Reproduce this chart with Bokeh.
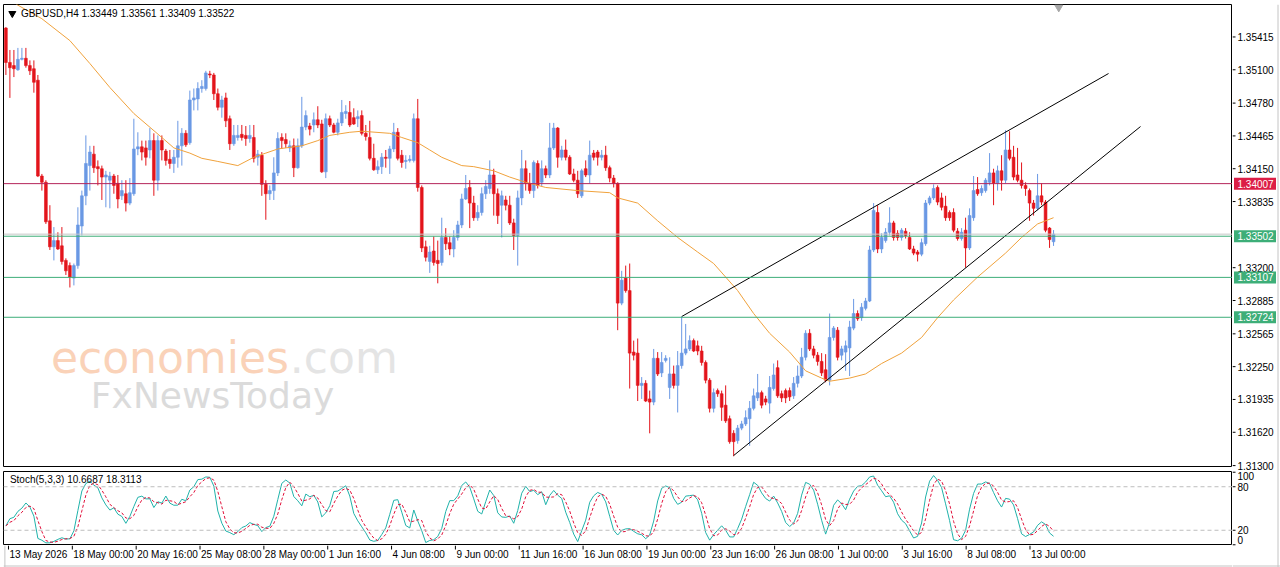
from bokeh.plotting import figure
from bokeh.models import Range1d, Span, ColumnDataSource
from bokeh.layouts import column, row
from bokeh.embed import file_html
from bokeh.resources import INLINE
from bokeh.core.properties import value

# ---------------- data (GBPUSD H4) ----------------
opens = [1.3550,1.3517,1.3514,1.3510,1.3520,1.3521,1.3514,1.3511,1.3500,1.3408,
1.3402,1.3365,1.3340,1.3346,1.3341,1.3327,1.3322,1.3310,1.3322,1.3360,
1.3389,1.3418,1.3429,1.3417,1.3415,1.3407,1.3404,1.3408,1.3401,1.3389,
1.3391,1.3382,1.3391,1.3434,1.3436,1.3435,1.3433,1.3442,1.3404,1.3442,
1.3432,1.3424,1.3420,1.3426,1.3437,1.3449,1.3440,1.3481,1.3482,1.3492,
1.3492,1.3506,1.3505,1.3487,1.3474,1.3483,1.3463,1.3439,1.3445,1.3448,
1.3447,1.3444,1.3445,1.3426,1.3428,1.3400,1.3391,1.3394,1.3411,1.3445,
1.3443,1.3435,1.3437,1.3416,1.3437,1.3455,1.3456,1.3457,1.3462,1.3458,
1.3412,1.3463,1.3457,1.3450,1.3459,1.3468,1.3469,1.3464,1.3463,1.3466,
1.3449,1.3445,1.3425,1.3414,1.3417,1.3426,1.3425,1.3434,1.3450,1.3428,
1.3422,1.3423,1.3423,1.3463,1.3397,1.3340,1.3326,1.3336,1.3327,1.3325,
1.3349,1.3344,1.3338,1.3349,1.3361,1.3386,1.3397,1.3382,1.3368,1.3373,
1.3391,1.3396,1.3409,1.3391,1.3380,1.3385,1.3380,1.3363,1.3351,1.3387,
1.3415,1.3401,1.3394,1.3420,1.3402,1.3415,1.3409,1.3435,1.3454,1.3426,
1.3433,1.3426,1.3410,1.3404,1.3389,1.3415,1.3409,1.3430,1.3431,1.3426,
1.3428,1.3416,1.3406,1.3401,1.3286,1.3310,1.3298,1.3239,1.3238,1.3207,
1.3209,1.3194,1.3191,1.3233,1.3219,1.3231,1.3205,1.3218,1.3207,1.3226,
1.3238,1.3242,1.3250,1.3245,1.3240,1.3229,1.3212,1.3185,1.3202,1.3199,
1.3188,1.3175,1.3161,1.3154,1.3166,1.3170,1.3175,1.3185,1.3195,1.3200,
1.3194,1.3190,1.3204,1.3224,1.3199,1.3202,1.3202,1.3197,1.3209,1.3216,
1.3234,1.3257,1.3242,1.3236,1.3230,1.3222,1.3212,1.3253,1.3260,1.3236,
1.3239,1.3243,1.3262,1.3276,1.3272,1.3281,1.3288,1.3337,1.3373,1.3338,
1.3346,1.3354,1.3363,1.3353,1.3349,1.3355,1.3349,1.3338,1.3335,1.3333,
1.3343,1.3382,1.3387,1.3397,1.3387,1.3379,1.3373,1.3373,1.3355,1.3348,
1.3356,1.3339,1.3368,1.3395,1.3392,1.3394,1.3402,1.3411,1.3401,1.3413,
1.3404,1.3433,1.3426,1.3409,1.3404,1.3399,1.3394,1.3382,1.3377,1.3389,
1.3383,1.3358,1.33449]

highs = [1.3551,1.3529,1.3529,1.3531,1.3531,1.3531,1.3519,1.3519,1.3505,1.3410,
1.3404,1.3380,1.3359,1.3354,1.3359,1.3329,1.3325,1.3324,1.3378,1.3394,
1.3447,1.3437,1.3437,1.3423,1.3418,1.3413,1.3412,1.3410,1.3409,1.3404,
1.3404,1.3406,1.3463,1.3450,1.3442,1.3442,1.3454,1.3449,1.3447,1.3447,
1.3434,1.3433,1.3433,1.3461,1.3454,1.3452,1.3490,1.3492,1.3498,1.3500,
1.3509,1.3509,1.3507,1.3492,1.3485,1.3488,1.3466,1.3457,1.3457,1.3457,
1.3456,1.3457,1.3457,1.3433,1.3431,1.3404,1.3399,1.3426,1.3450,1.3449,
1.3449,1.3442,1.3444,1.3444,1.3484,1.3471,1.3459,1.3469,1.3475,1.3462,
1.3468,1.3466,1.3459,1.3463,1.3481,1.3476,1.3480,1.3473,1.3471,1.3471,
1.3457,1.3461,1.3439,1.3423,1.3430,1.3433,1.3437,1.3459,1.3454,1.3433,
1.3428,1.3428,1.3468,1.3482,1.3399,1.3346,1.3341,1.3350,1.3346,1.3368,
1.3358,1.3350,1.3356,1.3365,1.3391,1.3409,1.3404,1.3389,1.3380,1.3397,
1.3404,1.3423,1.3415,1.3396,1.3394,1.3389,1.3389,1.3367,1.3394,1.3433,
1.3423,1.3411,1.3423,1.3423,1.3423,1.3418,1.3459,1.3459,1.3455,1.3437,
1.3443,1.3428,1.3415,1.3413,1.3415,1.3423,1.3442,1.3433,1.3433,1.3433,
1.3437,1.3418,1.3409,1.3402,1.3317,1.3322,1.3324,1.3250,1.3252,1.3215,
1.3212,1.3202,1.3242,1.3239,1.3239,1.3236,1.3234,1.3226,1.3240,1.3273,
1.3266,1.3255,1.3252,1.3250,1.3245,1.3231,1.3214,1.3204,1.3204,1.3202,
1.3207,1.3178,1.3164,1.3169,1.3173,1.3183,1.3192,1.3204,1.3218,1.3202,
1.3197,1.3216,1.3228,1.3231,1.3202,1.3204,1.3205,1.3215,1.3226,1.3243,
1.3260,1.3261,1.3245,1.3239,1.3238,1.3237,1.3276,1.3264,1.3263,1.3245,
1.3250,1.3269,1.3290,1.3279,1.3286,1.3291,1.3341,1.3382,1.3380,1.3353,
1.3358,1.3378,1.3365,1.3356,1.3358,1.3358,1.3354,1.3341,1.3337,1.3348,
1.3385,1.3389,1.3400,1.3399,1.3392,1.3389,1.3375,1.3377,1.3358,1.3358,
1.3368,1.3377,1.3408,1.3407,1.3399,1.3406,1.3430,1.3415,1.3418,1.3428,
1.3452,1.3451,1.3437,1.3435,1.3421,1.3402,1.3396,1.3385,1.3410,1.3401,
1.3385,1.3359,1.33561]

lows = [1.3505,1.3483,1.3503,1.3509,1.3519,1.3512,1.3505,1.3488,1.3407,1.3394,
1.3362,1.3337,1.3327,1.3337,1.3323,1.3313,1.3301,1.3303,1.3319,1.3351,
1.3380,1.3394,1.3411,1.3399,1.3385,1.3378,1.3377,1.3391,1.3377,1.3385,
1.3374,1.3380,1.3389,1.3428,1.3423,1.3418,1.3425,1.3389,1.3394,1.3423,
1.3418,1.3415,1.3411,1.3416,1.3418,1.3436,1.3438,1.3471,1.3471,1.3488,
1.3490,1.3502,1.3481,1.3471,1.3464,1.3455,1.3433,1.3437,1.3442,1.3442,
1.3437,1.3440,1.3421,1.3418,1.3389,1.3366,1.3385,1.3385,1.3408,1.3434,
1.3435,1.3431,1.3407,1.3415,1.3435,1.3452,1.3447,1.3450,1.3454,1.3411,
1.3406,1.3455,1.3449,1.3447,1.3456,1.3463,1.3455,1.3457,1.3455,1.3447,
1.3442,1.3423,1.3413,1.3410,1.3410,1.3416,1.3410,1.3431,1.3423,1.3416,
1.3415,1.3421,1.3421,1.3393,1.3335,1.3326,1.3315,1.3322,1.3305,1.3322,
1.3337,1.3332,1.3330,1.3346,1.3358,1.3385,1.3358,1.3365,1.3365,1.3370,
1.3386,1.3391,1.3370,1.3362,1.3349,1.3375,1.3361,1.3337,1.3322,1.3380,
1.3394,1.3391,1.3387,1.3396,1.3398,1.3406,1.3406,1.3433,1.3416,1.3423,
1.3423,1.3409,1.3402,1.3387,1.3387,1.3407,1.3401,1.3423,1.3418,1.3423,
1.3413,1.3402,1.3397,1.3260,1.3284,1.3296,1.3204,1.3231,1.3192,1.3194,
1.3191,1.3161,1.3188,1.3216,1.3215,1.3229,1.3194,1.3204,1.3181,1.3223,
1.3236,1.3240,1.3239,1.3236,1.3226,1.3209,1.3181,1.3181,1.3196,1.3173,
1.3171,1.3151,1.3139,1.3151,1.3164,1.3168,1.3149,1.3183,1.3192,1.3185,
1.3188,1.3180,1.3202,1.3195,1.3191,1.3190,1.3192,1.3194,1.3205,1.3214,
1.3231,1.3240,1.3233,1.3226,1.3216,1.3210,1.3207,1.3250,1.3231,1.3231,
1.3221,1.3216,1.3260,1.3269,1.3269,1.3279,1.3287,1.3335,1.3334,1.3334,
1.3344,1.3351,1.3346,1.3346,1.3346,1.3348,1.3337,1.3332,1.3326,1.3331,
1.3341,1.3380,1.3385,1.3380,1.3375,1.3365,1.3365,1.3354,1.3346,1.3346,
1.3320,1.3337,1.3365,1.3389,1.3389,1.3392,1.3399,1.3380,1.3394,1.3394,
1.3401,1.3423,1.3404,1.3402,1.3396,1.3389,1.3365,1.3370,1.3375,1.3380,
1.3354,1.3339,1.33409]

closes = [1.3517,1.3512,1.3511,1.3520,1.3521,1.3514,1.3509,1.3498,1.3408,1.3402,
1.3364,1.3340,1.3346,1.3338,1.3326,1.3317,1.3311,1.3322,1.3361,1.3389,
1.3420,1.3431,1.3416,1.3415,1.3407,1.3409,1.3408,1.3399,1.3386,1.3394,
1.3382,1.3392,1.3434,1.3436,1.3431,1.3426,1.3442,1.3404,1.3442,1.3433,
1.3423,1.3420,1.3426,1.3437,1.3449,1.3438,1.3481,1.3483,1.3492,1.3494,
1.3507,1.3505,1.3487,1.3474,1.3481,1.3461,1.3439,1.3447,1.3447,1.3445,
1.3444,1.3447,1.3425,1.3429,1.3400,1.3391,1.3394,1.3411,1.3444,1.3442,
1.3439,1.3437,1.3416,1.3437,1.3455,1.3466,1.3453,1.3462,1.3457,1.3412,
1.3463,1.3457,1.3450,1.3459,1.3469,1.3470,1.3457,1.3458,1.3465,1.3449,
1.3446,1.3425,1.3414,1.3417,1.3426,1.3425,1.3434,1.3450,1.3425,1.3421,
1.3423,1.3424,1.3463,1.3397,1.3339,1.3330,1.3335,1.3325,1.3324,1.3349,
1.3343,1.3338,1.3349,1.3361,1.3386,1.3396,1.3382,1.3368,1.3373,1.3391,
1.3398,1.3409,1.3391,1.3370,1.3389,1.3380,1.3363,1.3351,1.3387,1.3415,
1.3401,1.3394,1.3421,1.3399,1.3415,1.3409,1.3435,1.3454,1.3426,1.3433,
1.3426,1.3410,1.3404,1.3391,1.3413,1.3409,1.3428,1.3426,1.3426,1.3428,
1.3416,1.3406,1.3401,1.3286,1.3308,1.3298,1.3238,1.3236,1.3207,1.3209,
1.3192,1.3191,1.3233,1.3218,1.3229,1.3233,1.3218,1.3207,1.3226,1.3238,
1.3242,1.3250,1.3240,1.3240,1.3229,1.3212,1.3185,1.3200,1.3199,1.3186,
1.3173,1.3153,1.3153,1.3166,1.3170,1.3176,1.3185,1.3197,1.3200,1.3188,
1.3191,1.3205,1.3217,1.3197,1.3195,1.3195,1.3196,1.3209,1.3216,1.3234,
1.3257,1.3242,1.3236,1.3230,1.3219,1.3212,1.3253,1.3262,1.3234,1.3242,
1.3245,1.3263,1.3276,1.3271,1.3282,1.3288,1.3337,1.3375,1.3338,1.3349,
1.3354,1.3363,1.3349,1.3349,1.3356,1.3351,1.3338,1.3334,1.3333,1.3344,
1.3382,1.3387,1.3396,1.3383,1.3378,1.3368,1.3368,1.3356,1.3348,1.3354,
1.3339,1.3370,1.3394,1.3391,1.3396,1.3404,1.3411,1.3401,1.3413,1.3404,
1.3433,1.3425,1.3407,1.3404,1.3399,1.3396,1.3382,1.3377,1.3389,1.3383,
1.3356,1.3347,1.33522]

# moving average (orange) at these bar positions
ma_bars = [0,3,9,16,21,26,32,39,42,46,49,53,58,62,65,68,74,78,81,86,89,96,99,103,106,109,114,117,122,126,
           130,135,143,151,153,158,163,168,173,177,180,183,187,191,196,200,204,206,211,215,219,224,229,233,237,243,250,254,258,262]
ma_values = [1.3580,1.3572,1.3559,1.3538,1.3516,1.3493,1.3468,1.3445,1.3435,1.3430,1.3425,1.3422,1.3418,1.3426,1.3430,
             1.3434,1.3437,1.3442,1.3447,1.3450,1.3451,1.3449,1.3445,1.3440,1.3433,1.3426,1.3418,1.3417,1.3413,1.3407,
             1.3402,1.3397,1.3394,1.3392,1.3387,1.3382,1.3365,1.3349,1.3335,1.3324,1.3311,1.3298,1.3276,1.3257,1.3239,
             1.3221,1.3214,1.3211,1.3214,1.3218,1.3228,1.3238,1.3253,1.3272,1.3289,1.3311,1.3334,1.3349,1.3362,1.3368]

# trend channel lines (bar, price)
upper_line_bars = [169, 275.75]
upper_line_prices = [1.32731, 1.35064]
lower_line_bars = [182, 283.75]
lower_line_prices = [1.31397, 1.34555]

level_prices = [1.34007, 1.33502, 1.33107, 1.32724]
level_labels = ["1.34007", "1.33502", "1.33107", "1.32724"]
level_colors = ["#DC1E46", "#3DAE78", "#3DAE78", "#3DAE78"]
level_line_colors = ["#B4245A", "#3DAE78", "#3DAE78", "#3DAE78"]
bid_price = 1.33522

price_ticks = [1.35415, 1.35100, 1.34780, 1.34465, 1.34150, 1.33835, 1.33200,
               1.32885, 1.32565, 1.32250, 1.31935, 1.31620, 1.31300]
price_tick_labels = ["1.35415", "1.35100", "1.34780", "1.34465", "1.34150", "1.33835", "1.33200",
                     "1.32885", "1.32565", "1.32250", "1.31935", "1.31620", "1.31300"]

date_bars = [0, 16, 32, 48, 64, 80, 96, 112, 128, 144, 160, 176, 192, 208, 224, 240, 256]
date_labels = ["13 May 2026", "18 May 00:00", "20 May 16:00", "25 May 08:00", "28 May 00:00",
               "1 Jun 16:00", "4 Jun 08:00", "9 Jun 00:00", "11 Jun 16:00", "16 Jun 08:00",
               "19 Jun 00:00", "23 Jun 16:00", "26 Jun 08:00", "1 Jul 00:00", "3 Jul 16:00",
               "8 Jul 08:00", "13 Jul 00:00"]

stoch_ticks = [100, 80, 20, 0]
stoch_tick_labels = ["100", "80", "20", "0"]

header_text = "GBPUSD,H4  1.33449 1.33561 1.33409 1.33522"
stoch_header = "Stoch(5,3,3) 10.6687 18.3113"

# ---------------- derived ----------------
n = len(closes)
bars = list(range(n))
BULL = "#6A98E4"
BEAR = "#E3141B"
colors = [BULL if c >= o else BEAR for o, c in zip(opens, closes)]
body_top = [max(o, c) for o, c in zip(opens, closes)]
body_bot = [min(o, c) for o, c in zip(opens, closes)]

# Stochastic (5,3,3) from the candles
num, den = [], []
for i in range(n):
    lo = max(0, i - 4)
    hh = max(highs[lo:i + 1]); ll = min(lows[lo:i + 1])
    num.append(closes[i] - ll); den.append(hh - ll)
k_line = []
for i in range(n):
    lo = max(0, i - 2)
    d = sum(den[lo:i + 1])
    k_line.append(100.0 * sum(num[lo:i + 1]) / d if d else 50.0)
d_line = []
for i in range(n):
    lo = max(0, i - 2)
    seg = k_line[lo:i + 1]
    d_line.append(sum(seg) / len(seg))

FONT = "Liberation Sans"
FS = "10px"
EDGE = "#C4C4C4"

def base_fig(**kw):
    p = figure(output_backend="svg", toolbar_location=None,
               x_axis_location=None, y_axis_location=None, **kw)
    p.grid.visible = False
    p.background_fill_color = "white"
    p.border_fill_color = "white"
    return p

xr = Range1d(-0.6, 306.75)
PRICE_TOP, PRICE_BOTTOM = 1.357266, 1.312818          # main frame: 463 px tall
STOCH_LO, STOCH_HI = -1, 101                           # stoch frame: 74 px tall
yr = Range1d(PRICE_BOTTOM, PRICE_TOP)

main = base_fig(width=1232, height=467, x_range=xr, y_range=yr,
                min_border_left=3, min_border_right=0, min_border_top=4, min_border_bottom=0)
main.outline_line_color = "black"
main.outline_line_width = 1

# watermark
main.text(x=[11.25], y=[1.32338], text=["economies"], text_font=value("DejaVu Sans"),
          text_font_size="44px", text_color="#FAD2B8", text_baseline="alphabetic")
main.text(x=[71], y=[1.32338], text=[".com"], text_font=value("DejaVu Sans"),
          text_font_size="44px", text_color="#E4E4E4", text_baseline="alphabetic")
main.text(x=[21.25], y=[1.31973], text=["FxNewsToday"], text_font=value("DejaVu Sans"),
          text_font_size="36px", text_color="#DBDBDB", text_baseline="alphabetic")

# horizontal levels
main.add_layout(Span(location=bid_price, dimension="width", line_color="#C8C8C8", line_width=1))
for lp, lc in zip(level_prices, level_line_colors):
    main.add_layout(Span(location=lp, dimension="width", line_color=lc, line_width=1))

src = ColumnDataSource(dict(x=bars, h=highs, l=lows, top=body_top, bot=body_bot, col=colors))
main.segment(x0="x", y0="l", x1="x", y1="h", line_color="col", line_width=1, source=src)
main.vbar(x="x", width=0.7, top="top", bottom="bot", fill_color="col", line_color="col",
          line_width=0.6, source=src)

main.line(ma_bars, ma_values, line_color="#F0A23C", line_width=1)
main.line(upper_line_bars, upper_line_prices, line_color="black", line_width=1)
main.line(lower_line_bars, lower_line_prices, line_color="black", line_width=1)

main.scatter(x=[1.6], y=[1.3564], marker="inverted_triangle", size=7, color="black")
main.text(x=[3.75], y=[1.3564], text=[header_text], text_font=value(FONT), text_font_size=FS,
          text_baseline="middle", text_color="black")
main.scatter(x=[263.3], y=[1.3570], marker="inverted_triangle", size=8, color="#A8A8A8")

# stochastic panel
stoch = base_fig(width=1232, height=78, x_range=xr, y_range=Range1d(STOCH_LO, STOCH_HI),
                 min_border_left=3, min_border_right=0, min_border_top=4, min_border_bottom=0)
stoch.outline_line_color = "black"
for lvl in (80, 20):
    stoch.add_layout(Span(location=lvl, dimension="width", line_color="#BDBDBD",
                          line_width=1, line_dash="4 3"))
stoch.line(bars, k_line, line_color="#20B2AA", line_width=1)
stoch.line(bars, d_line, line_color="#E0103A", line_width=1, line_dash="3 2")
stoch.text(x=[1], y=[90], text=[stoch_header], text_font=value(FONT), text_font_size=FS,
           text_baseline="middle", text_color="black")

# date strip (below the stochastic panel)
dates = base_fig(width=1232, height=22, x_range=Range1d(-1.25, 306.75), y_range=Range1d(0, 22),
                 min_border_left=0, min_border_right=0, min_border_top=0, min_border_bottom=0)
dates.outline_line_color = None
dates.segment(x0=date_bars, y0=[22] * len(date_bars), x1=date_bars, y1=[18] * len(date_bars),
              line_color="black")
dates.text(x=date_bars, y=[13] * len(date_bars), text=date_labels, x_offset=1, text_font=value(FONT),
           text_font_size=FS, text_baseline="middle", text_align="left", text_color="black")
dates.add_layout(Span(location=1.5, dimension="width", line_color=EDGE, line_width=1))
dates.add_layout(Span(location=-0.9, dimension="height", line_color=EDGE, line_width=1))

# right-hand axis column, one figure for both panels (same pixel scales as the panels)
px_price = (PRICE_TOP - PRICE_BOTTOM) / 463.0
px_stoch = (STOCH_HI - STOCH_LO) / 74.0
ax = base_fig(width=48, height=567, x_range=Range1d(0, 48),
              y_range=Range1d(PRICE_TOP - 563 * px_price, PRICE_TOP),
              min_border_left=0, min_border_right=0, min_border_top=4, min_border_bottom=0)
ax.extra_y_ranges = {"stoch": Range1d(STOCH_LO - 22 * px_stoch, STOCH_HI + 467 * px_stoch)}
ax.outline_line_color = None
ax.segment(x0=[0] * len(price_ticks), y0=price_ticks, x1=[3] * len(price_ticks), y1=price_ticks,
           line_color="black", line_width=1)
ax.text(x=[5] * len(price_ticks), y=price_ticks, text=price_tick_labels, text_font=value(FONT),
        text_font_size=FS, text_baseline="middle", text_color="black")
ax.rect(x=[22.5] * 4, y=level_prices, width=42, height=12, height_units="screen",
        fill_color=level_colors, line_color=None)
ax.text(x=[5] * 4, y=level_prices, text=level_labels, text_font=value(FONT),
        text_font_size=FS, text_baseline="middle", text_color="white")
ax.segment(x0=[0] * 4, y0=stoch_ticks, x1=[3] * 4, y1=stoch_ticks, line_color="black",
           y_range_name="stoch")
ax.text(x=[5] * 4, y=stoch_ticks, text=stoch_tick_labels, text_font=value(FONT),
        text_font_size=FS, text_baseline=["top", "middle", "middle", "bottom"],
        y_offset=[0, 0, 0, -1], text_color="black", y_range_name="stoch")
ax.add_layout(Span(location=45.5, dimension="height", line_color=EDGE, line_width=1))
ax.add_layout(Span(location=STOCH_LO - 20.5 * px_stoch, dimension="width", line_color=EDGE,
                   line_width=1, y_range_name="stoch"))

layout = row(column(main, stoch, dates), ax)

open("out.html", "w").write(file_html(layout, INLINE))
